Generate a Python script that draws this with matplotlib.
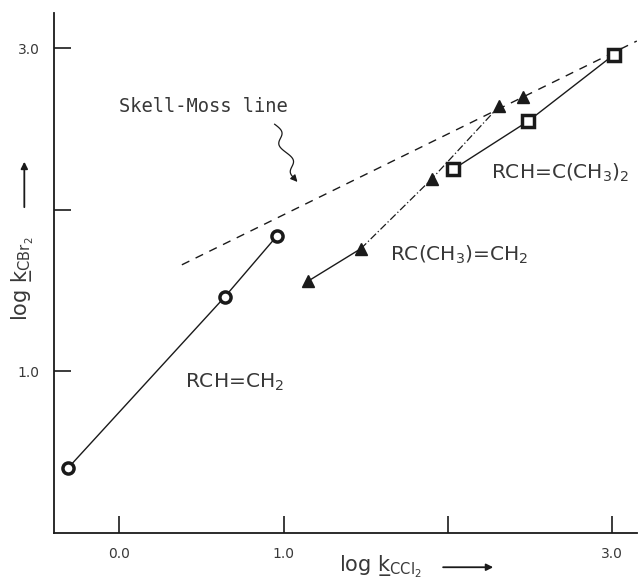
import numpy as np
import matplotlib
matplotlib.use("Agg")
import matplotlib.pyplot as plt

# ---- data ----
vinyl_x = [-0.315, 0.64, 0.96]          # RCH=CH2 (open circles)
vinyl_y = [0.40, 1.46, 1.84]
isob_x = [1.15, 1.47, 1.90, 2.31]        # RC(CH3)=CH2 (triangles, connected)
isob_y = [1.56, 1.76, 2.19, 2.64]
isob_extra_x = [2.46]                    # triangle on the Skell-Moss line
isob_extra_y = [2.70]
tri_x = [2.03, 2.49, 3.01]               # RCH=C(CH3)2 (open squares)
tri_y = [2.25, 2.55, 2.96]
sm_x = [0.38, 3.15]                      # Skell-Moss line
sm_y = [1.66, 3.045]
xticks = [0.0, 1.0, 2.0, 3.0]
xticklabels = ["0.0", "1.0", "", "3.0"]
yticks = [1.0, 2.0, 3.0]
yticklabels = ["1.0", "", "3.0"]

plt.rcParams['font.family'] = ['DejaVu Sans']
ink = "#1a1a1a"
txt = "#383838"

fig = plt.figure(figsize=(6.4, 5.8), dpi=100)
ax = fig.add_axes([0.084, 0.081, 0.911, 0.897])
ax.set_xlim(-0.40, 3.15)
ax.set_ylim(0.0, 3.22)

for s in ["top", "right"]:
    ax.spines[s].set_visible(False)
for s in ["left", "bottom"]:
    ax.spines[s].set_linewidth(1.3)
    ax.spines[s].set_color(ink)

ax.set_xticks(xticks)
ax.set_xticklabels(xticklabels)
ax.set_yticks(yticks)
ax.set_yticklabels(yticklabels)
ax.tick_params(direction="in", length=12, width=1.2, color=ink,
               labelsize=10, labelcolor=txt, pad=10)
ax.tick_params(axis="x", pad=10)

# Skell-Moss line
ax.plot(sm_x, sm_y, ls=(0, (6, 5)), color=ink, lw=1.0)

# RCH=CH2
ax.plot(vinyl_x, vinyl_y, "-", color=ink, lw=1.0, marker="o", ms=8,
        mfc="white", mec=ink, mew=2.5)

# RC(CH3)=CH2
ax.plot(isob_x[:2], isob_y[:2], "-", color=ink, lw=1.0)
ax.plot(isob_x[1:], isob_y[1:], ls=(0, (6, 2, 1, 2)), color=ink, lw=0.9)
ax.plot(isob_x, isob_y, ls="none", marker="^", ms=8.5, mfc=ink, mec=ink)
ax.plot(isob_extra_x, isob_extra_y, ls="none", marker="^", ms=8.5, mfc=ink, mec=ink)

# RCH=C(CH3)2
ax.plot(tri_x, tri_y, "-", color=ink, lw=1.0, marker="s", ms=9,
        mfc="white", mec=ink, mew=2.5)

# labels
tk = dict(color=txt, fontsize=14.5)
ax.text(0.0, 2.64, "Skell-Moss line", fontsize=13.5, color=txt,
        family="DejaVu Sans Mono", va="center", ha="left")
ax.text(2.26, 2.23, "RCH=C(CH$_3$)$_2$", va="center", ha="left", **tk)
ax.text(1.65, 1.72, "RC(CH$_3$)=CH$_2$", va="center", ha="left", **tk)
ax.text(0.40, 0.93, "RCH=CH$_2$", va="center", ha="left", **tk)

# wavy pointer to the Skell-Moss line
t = np.linspace(0, 1, 60)
wx = 0.945 + 0.14 * t + 0.025 * np.sin(2 * np.pi * 2 * t)
wy = 2.53 - 0.35 * t
ax.plot(wx[:-4], wy[:-4], color=ink, lw=0.9)
ax.annotate("", xy=(wx[-1] + 0.01, wy[-1] - 0.02), xytext=(wx[-5], wy[-5]),
            arrowprops=dict(arrowstyle="-|>", color=ink, lw=0.9,
                            mutation_scale=10))

# axis titles with arrows
fig.text(0.036, 0.52, "log k\u0332$_{\\mathrm{CBr_2}}$",
         rotation=90, ha="center", va="center", fontsize=15, color=txt)
fig.add_artist(matplotlib.patches.FancyArrowPatch(
    (0.038, 0.638), (0.038, 0.726), transform=fig.transFigure,
    arrowstyle="-|>", mutation_scale=10, color=ink, lw=1.3))
fig.text(0.594, 0.022, "log k\u0332$_{\\mathrm{CCl_2}}$",
         ha="center", va="center", fontsize=15, color=txt)
fig.add_artist(matplotlib.patches.FancyArrowPatch(
    (0.688, 0.022), (0.775, 0.022), transform=fig.transFigure,
    arrowstyle="-|>", mutation_scale=10, color=ink, lw=1.3))

fig.savefig("out.png", dpi=100)
